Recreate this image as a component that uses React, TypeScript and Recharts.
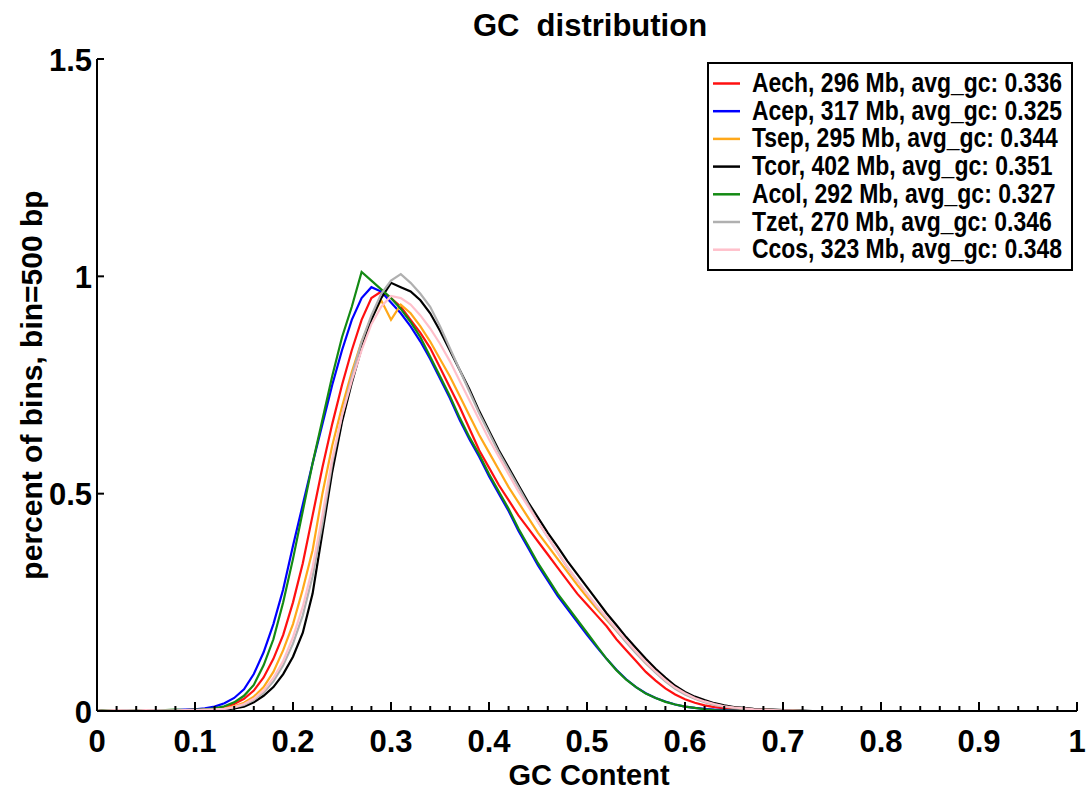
import { LineChart, Line, XAxis, YAxis, Legend } from "recharts";

// GC bins (0.01 wide) from 0.00 to 0.75; beyond that every series is ~0
const GC = Array.from({ length: 76 }, (_, i) => i / 100);

const AECH = [
  0, 0.002, 0.001, 0.002, 0.001, 0.002, 0.001, 0.002, 0.002, 0.002,
  0.003, 0.004, 0.005, 0.009, 0.016, 0.028, 0.047, 0.077, 0.12, 0.175,
  0.25, 0.34, 0.45, 0.56, 0.66, 0.75, 0.83, 0.9, 0.95, 0.965,
  0.95, 0.93, 0.9, 0.87, 0.835, 0.79, 0.745, 0.7, 0.65, 0.6,
  0.56, 0.52, 0.485, 0.45, 0.42, 0.39, 0.36, 0.33, 0.3, 0.27,
  0.245, 0.22, 0.195, 0.165, 0.14, 0.115, 0.09, 0.07, 0.052, 0.038,
  0.027, 0.019, 0.013, 0.009, 0.006, 0.004, 0.003, 0.002, 0.001, 0.001,
  0, 0, 0, 0, 0, 0,
];
const ACEP = [
  0, 0.001, 0.002, 0.001, 0.002, 0.002, 0.001, 0.002, 0.002, 0.003,
  0.004, 0.006, 0.01, 0.018, 0.03, 0.05, 0.085, 0.135, 0.2, 0.28,
  0.38, 0.475, 0.57, 0.66, 0.75, 0.83, 0.9, 0.95, 0.975, 0.965,
  0.94, 0.915, 0.885, 0.85, 0.81, 0.765, 0.72, 0.67, 0.625, 0.585,
  0.54, 0.5, 0.46, 0.415, 0.375, 0.335, 0.3, 0.265, 0.235, 0.205,
  0.175, 0.147, 0.12, 0.095, 0.073, 0.055, 0.041, 0.03, 0.022, 0.015,
  0.01, 0.007, 0.005, 0.003, 0.002, 0.001, 0.001, 0, 0, 0,
  0, 0, 0, 0, 0, 0,
];
const TSEP = [
  0, 0.001, 0.002, 0.001, 0.002, 0.001, 0.001, 0.002, 0.001, 0.002,
  0.002, 0.003, 0.004, 0.006, 0.011, 0.019, 0.033, 0.055, 0.09, 0.14,
  0.2, 0.28, 0.37, 0.5, 0.61, 0.7, 0.78, 0.85, 0.905, 0.945,
  0.9, 0.935, 0.915, 0.885, 0.85, 0.81, 0.77, 0.725, 0.68, 0.635,
  0.595, 0.555, 0.515, 0.48, 0.445, 0.41, 0.38, 0.35, 0.32, 0.29,
  0.262, 0.235, 0.21, 0.185, 0.16, 0.135, 0.11, 0.09, 0.07, 0.053,
  0.04, 0.03, 0.022, 0.016, 0.011, 0.008, 0.005, 0.004, 0.003, 0.002,
  0.001, 0.001, 0, 0, 0, 0,
];
const TCOR = [
  0, 0.001, 0.001, 0.001, 0.002, 0.001, 0.001, 0.001, 0.002, 0.001,
  0.001, 0.002, 0.002, 0.003, 0.006, 0.01, 0.02, 0.035, 0.055, 0.085,
  0.125, 0.18, 0.27, 0.41, 0.55, 0.665, 0.755, 0.835, 0.9, 0.95,
  0.985, 0.975, 0.965, 0.945, 0.915, 0.875, 0.83, 0.785, 0.74, 0.69,
  0.645, 0.6, 0.56, 0.52, 0.48, 0.445, 0.41, 0.378, 0.345, 0.315,
  0.285, 0.255, 0.225, 0.198, 0.17, 0.145, 0.12, 0.097, 0.077, 0.058,
  0.044, 0.033, 0.025, 0.018, 0.013, 0.009, 0.007, 0.005, 0.004, 0.003,
  0.002, 0.001, 0.001, 0, 0, 0,
];
const ACOL = [
  0, 0.002, 0.001, 0.002, 0.002, 0.001, 0.002, 0.002, 0.003, 0.002,
  0.003, 0.004, 0.006, 0.011, 0.02, 0.035, 0.06, 0.105, 0.165, 0.25,
  0.35, 0.46, 0.57, 0.67, 0.77, 0.86, 0.93, 1.01, 0.99, 0.97,
  0.95, 0.925, 0.895, 0.86, 0.815, 0.77, 0.725, 0.675, 0.63, 0.59,
  0.545, 0.505, 0.465, 0.42, 0.38, 0.34, 0.305, 0.27, 0.24, 0.21,
  0.18, 0.15, 0.12, 0.094, 0.072, 0.055, 0.04, 0.03, 0.021, 0.015,
  0.01, 0.007, 0.004, 0.002, 0.001, 0.001, 0.001, 0, 0, 0.001,
  0, 0, 0, 0, 0, 0,
];
const TZET = [
  0, 0.001, 0.001, 0.002, 0.001, 0.001, 0.002, 0.001, 0.001, 0.002,
  0.002, 0.002, 0.003, 0.005, 0.008, 0.014, 0.025, 0.042, 0.068, 0.105,
  0.155, 0.22, 0.31, 0.43, 0.57, 0.68, 0.77, 0.85, 0.91, 0.96,
  0.99, 1.005, 0.985, 0.96, 0.93, 0.885, 0.835, 0.785, 0.735, 0.685,
  0.64, 0.595, 0.555, 0.515, 0.475, 0.435, 0.4, 0.365, 0.33, 0.3,
  0.27, 0.24, 0.212, 0.185, 0.158, 0.133, 0.11, 0.088, 0.068, 0.051,
  0.038, 0.028, 0.02, 0.014, 0.01, 0.007, 0.005, 0.003, 0.002, 0.001,
  0.001, 0, 0, 0, 0, 0,
];
const CCOS = [
  0, 0.001, 0.002, 0.001, 0.001, 0.002, 0.001, 0.001, 0.001, 0.002,
  0.002, 0.003, 0.004, 0.005, 0.009, 0.016, 0.028, 0.047, 0.076, 0.115,
  0.17, 0.24, 0.33, 0.45, 0.58, 0.68, 0.76, 0.83, 0.89, 0.93,
  0.955, 0.95, 0.935, 0.91, 0.88, 0.845, 0.805, 0.76, 0.715, 0.67,
  0.625, 0.585, 0.545, 0.505, 0.47, 0.435, 0.4, 0.365, 0.332, 0.3,
  0.27, 0.242, 0.215, 0.188, 0.162, 0.137, 0.113, 0.091, 0.071, 0.054,
  0.041, 0.03, 0.022, 0.016, 0.011, 0.008, 0.006, 0.004, 0.003, 0.002,
  0.001, 0.001, 0, 0, 0, 0,
];

const SERIES = [
  { key: "Aech", size: 296, avg: "0.336", color: "#ff1010", values: AECH },
  { key: "Acep", size: 317, avg: "0.325", color: "#0000ff", values: ACEP },
  { key: "Tsep", size: 295, avg: "0.344", color: "#ffa81a", values: TSEP },
  { key: "Tcor", size: 402, avg: "0.351", color: "#000000", values: TCOR },
  { key: "Acol", size: 292, avg: "0.327", color: "#138a13", values: ACOL },
  { key: "Tzet", size: 270, avg: "0.346", color: "#b0b0b0", values: TZET },
  { key: "Ccos", size: 323, avg: "0.348", color: "#ffc0cb", values: CCOS },
];

const X_TICKS = Array.from({ length: 51 }, (_, i) => (i * 2) / 100);
const Y_TICKS = [0, 0.5, 1, 1.5];

const data = GC.map((gc, i) => {
  const row: Record<string, number> = { gc };
  SERIES.forEach((s) => (row[s.key] = s.values[i]));
  return row;
});

const FONT = "'Liberation Sans', Arial, sans-serif";

const isMajor = (v: number) => Math.abs(v * 10 - Math.round(v * 10)) < 1e-6;
const fmt = (v: number) => String(Math.round(v * 10) / 10);

function BottomTick({ x, y, payload }: any) {
  const v = payload.value;
  const major = isMajor(v);
  return (
    <g>
      <line x1={x} x2={x} y1={y} y2={y - (major ? 9 : 5)} stroke="#000" strokeWidth={2} />
      {major && (
        <text x={x} y={y + 41} textAnchor="middle" fontFamily={FONT} fontWeight="bold" fontSize={31} fill="#000">
          {fmt(v)}
        </text>
      )}
    </g>
  );
}

function TopTick({ x, y, payload }: any) {
  const major = isMajor(payload.value);
  return <line x1={x} x2={x} y1={y} y2={y + (major ? 9 : 5)} stroke="#000" strokeWidth={2} />;
}

function LeftTick({ x, y, payload }: any) {
  return (
    <g>
      <line x1={x} x2={x + 7} y1={y} y2={y} stroke="#000" strokeWidth={2} />
      <text x={x - 5} y={y + 11.5} textAnchor="end" fontFamily={FONT} fontWeight="bold" fontSize={31} fill="#000">
        {fmt(payload.value)}
      </text>
    </g>
  );
}

function RightTick({ x, y }: any) {
  return <line x1={x} x2={x - 7} y1={y} y2={y} stroke="#000" strokeWidth={2} />;
}

// legend text in the original is a condensed bold face, so squeeze it horizontally
function LegendBox() {
  return (
    <svg width={366} height={209} style={{ display: "block" }}>
      <rect x={1} y={1} width={364} height={207} fill="#fff" stroke="#000" strokeWidth={2} />
      {SERIES.map((s, i) => {
        const base = 30 + i * 27.7;
        return (
          <g key={s.key}>
            <line x1={6} x2={33} y1={base - 8.5} y2={base - 8.5} stroke={s.color} strokeWidth={2.5} />
            <text
              transform={`translate(45, ${base}) scale(0.82, 1)`}
              fontFamily={FONT}
              fontWeight="bold"
              fontSize={28}
              fill="#000"
            >
              {`${s.key}, ${s.size} Mb, avg_gc: ${s.avg}`}
            </text>
          </g>
        );
      })}
    </svg>
  );
}

const axisLine = { stroke: "#000", strokeWidth: 2 };

export default function App() {
  return (
    <div style={{ position: "absolute", left: 0, top: 0, width: 1086, height: 796, background: "#fff" }}>
      <LineChart width={1086} height={796} data={data} margin={{ top: 59, right: 9, bottom: 0, left: 0 }}>
        <XAxis
          dataKey="gc"
          type="number"
          domain={[0, 1]}
          ticks={X_TICKS}
          interval={0}
          allowDataOverflow
          height={85}
          tickSize={0}
          tickMargin={0}
          tickLine={false}
          axisLine={axisLine}
          tick={BottomTick}
        />
        <XAxis
          xAxisId="top"
          orientation="top"
          type="number"
          domain={[0, 1]}
          ticks={X_TICKS}
          interval={0}
          allowDataOverflow
          height={0}
          tickSize={0}
          tickMargin={0}
          tickLine={false}
          axisLine={axisLine}
          tick={TopTick}
        />
        <YAxis
          type="number"
          domain={[0, 1.5]}
          ticks={Y_TICKS}
          interval={0}
          allowDataOverflow
          width={97}
          tickSize={0}
          tickMargin={0}
          tickLine={false}
          axisLine={axisLine}
          tick={LeftTick}
        />
        <YAxis
          yAxisId="right"
          orientation="right"
          type="number"
          domain={[0, 1.5]}
          ticks={Y_TICKS}
          interval={0}
          allowDataOverflow
          width={0}
          tickSize={0}
          tickMargin={0}
          tickLine={false}
          axisLine={axisLine}
          tick={RightTick}
        />
        <Legend
          layout="horizontal"
          verticalAlign="middle"
          align="center"
          width={366}
          content={<LegendBox />}
          wrapperStyle={{ left: 707, top: 62, width: 366, height: 209 }}
        />
        {SERIES.map((s) => (
          <Line
            key={s.key}
            dataKey={s.key}
            type="linear"
            stroke={s.color}
            strokeWidth={2.2}
            dot={false}
            isAnimationActive={false}
          />
        ))}
      </LineChart>
      <svg
        width={1086}
        height={796}
        style={{ position: "absolute", left: 0, top: 0, pointerEvents: "none" }}
      >
        <text
          x={590}
          y={36}
          textAnchor="middle"
          fontFamily={FONT}
          fontWeight="bold"
          fontSize={31}
          fill="#000"
          style={{ whiteSpace: "pre" }}
        >
          {"GC  distribution"}
        </text>
        <text x={589} y={785} textAnchor="middle" fontFamily={FONT} fontWeight="bold" fontSize={29} fill="#000">
          GC Content
        </text>
        <text
          transform="translate(42, 385) rotate(-90)"
          textAnchor="middle"
          fontFamily={FONT}
          fontWeight="bold"
          fontSize={30}
          fill="#000"
        >
          percent of bins, bin=500 bp
        </text>
      </svg>
    </div>
  );
}
